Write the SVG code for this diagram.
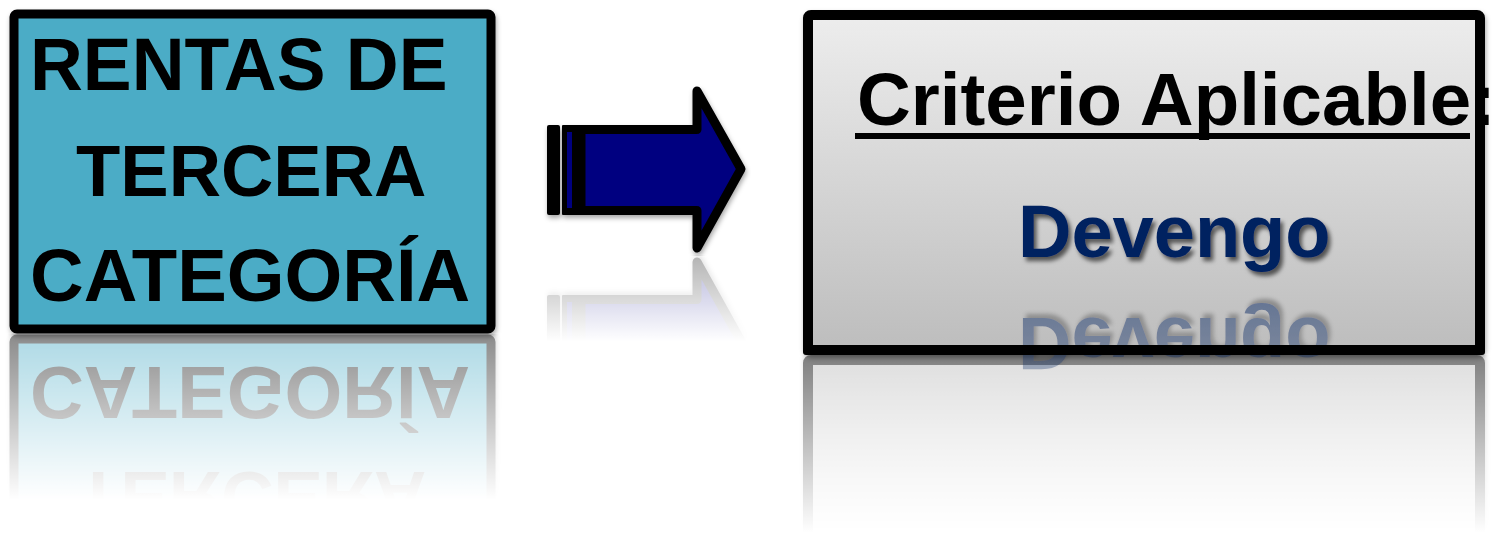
<svg xmlns="http://www.w3.org/2000/svg" xmlns:xlink="http://www.w3.org/1999/xlink" width="1493" height="533" viewBox="0 0 1493 533">
<style>
.bold{font-family:"Liberation Sans",Arial,sans-serif;font-weight:bold}
.lt{fill:#000}
.crit{font-size:74.5px;fill:#000}
.dev{font-size:74px;fill:#002060}
</style>
<defs>
<filter id="sh" x="-5%" y="-5%" width="110%" height="110%"><feDropShadow dx="1" dy="3" stdDeviation="2.5" flood-color="#000" flood-opacity=".35"/></filter>
<filter id="tsh" x="-5%" y="-10%" width="110%" height="130%"><feDropShadow dx="3" dy="4" stdDeviation="2" flood-color="#000" flood-opacity=".6"/></filter>
<linearGradient id="grayFill" x1="0" y1="0" x2="0" y2="1"><stop offset="0" stop-color="#ededed"/><stop offset="1" stop-color="#bdbdbd"/></linearGradient>
<linearGradient id="fadeL" gradientUnits="userSpaceOnUse" x1="0" y1="336" x2="0" y2="500"><stop offset="0" stop-color="#fff" stop-opacity=".45"/><stop offset="1" stop-color="#fff" stop-opacity="0"/></linearGradient>
<linearGradient id="fadeA" gradientUnits="userSpaceOnUse" x1="0" y1="255" x2="0" y2="342"><stop offset="0" stop-color="#fff" stop-opacity=".3"/><stop offset="1" stop-color="#fff" stop-opacity="0"/></linearGradient>
<linearGradient id="fadeR" gradientUnits="userSpaceOnUse" x1="0" y1="356" x2="0" y2="533"><stop offset="0" stop-color="#fff" stop-opacity=".5"/><stop offset="1" stop-color="#fff" stop-opacity="0"/></linearGradient>
<linearGradient id="fadeD" gradientUnits="userSpaceOnUse" x1="0" y1="295" x2="0" y2="372"><stop offset="0" stop-color="#fff" stop-opacity=".5"/><stop offset="1" stop-color="#fff" stop-opacity=".3"/></linearGradient>
<mask id="mL" maskUnits="userSpaceOnUse" x="0" y="0" width="1493" height="533"><rect x="0" y="334" width="510" height="199" fill="url(#fadeL)"/></mask>
<mask id="mA" maskUnits="userSpaceOnUse" x="0" y="0" width="1493" height="533"><rect x="530" y="255" width="240" height="100" fill="url(#fadeA)"/></mask>
<mask id="mR" maskUnits="userSpaceOnUse" x="0" y="0" width="1493" height="533"><rect x="790" y="355" width="703" height="178" fill="url(#fadeR)"/></mask>
<mask id="mD" maskUnits="userSpaceOnUse" x="0" y="0" width="1493" height="533"><rect x="1000" y="288" width="360" height="90" fill="url(#fadeD)"/></mask>
</defs>
<rect width="1493" height="533" fill="#fff"/>

<g id="reflections">
<g mask="url(#mL)"><use xlink:href="#node-rentas" href="#node-rentas" transform="matrix(1,0,0,-1,0,668)"/></g>
<g mask="url(#mA)"><use xlink:href="#arrow-shape" href="#arrow-shape" transform="matrix(1,0,0,-1,0,510)"/></g>
<g mask="url(#mR)"><use xlink:href="#rbox-shape" href="#rbox-shape" transform="matrix(1,0,0,-1,0,710)"/></g>
</g>

<g id="node-rentas">
<rect x="14" y="14" width="477" height="315" rx="3" fill="#4bacc6" stroke="#000" stroke-width="9" filter="url(#sh)"/>
<text class="bold lt" x="30" y="90" font-size="73.2">RENTAS DE</text>
<text class="bold lt" x="76" y="196" font-size="72.5">TERCERA</text>
<text class="bold lt" x="30" y="301" font-size="74.3">CATEGORÍA</text>
</g>

<g id="connectors">
<g id="arrow-shape" filter="url(#sh)">
<rect x="547" y="125" width="13" height="90" rx="2" fill="#000"/>
<rect x="562" y="125" width="23" height="90" rx="1" fill="#000"/>
<rect x="567" y="132" width="5" height="76" fill="#000080"/>
<path d="M581,129.5 L697,129.5 L697,91 L741,169 L697,248 L697,210.5 L581,210.5 Z" fill="#000080" stroke="#000" stroke-width="9" stroke-linejoin="round"/>
</g>
</g>

<g id="node-criterio">
<g id="rbox-shape"><rect x="808" y="15" width="672" height="335" rx="3" fill="url(#grayFill)" stroke="#000" stroke-width="10" filter="url(#sh)"/></g>
<g mask="url(#mD)"><use xlink:href="#devengo" href="#devengo" transform="matrix(1,0,0,-1,0,575)"/></g>
<rect x="803" y="345" width="682" height="10" rx="3" fill="#000"/>
<text class="bold crit" x="857" y="125">Criterio Aplicable:</text>
<rect x="855" y="133" width="615" height="6" fill="#000"/>
<g id="devengo"><text class="bold dev" x="1018" y="257" filter="url(#tsh)">Devengo</text></g>
</g>
</svg>
